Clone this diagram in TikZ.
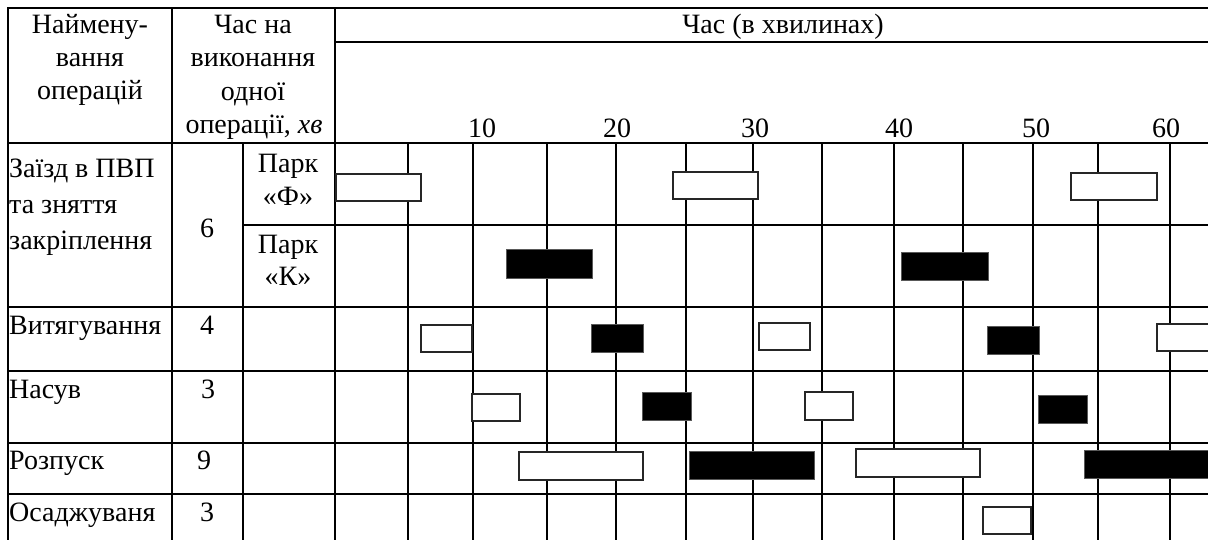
\documentclass[tikz,border=0pt]{standalone}
\usepackage{fontspec}
\setmainfont{Liberation Serif}
\begin{document}
\begin{tikzpicture}[x=1pt,y=-1pt,
  gridline/.style={line width=1.6pt, line cap=rect},
  wbar/.style={draw=black!85, line width=1.2pt, fill=white},
  bbar/.style={draw=black!65, line width=0.8pt, fill=black},
  lab/.style={font=\fontsize{28}{33}\selectfont, inner sep=0pt, anchor=base},
  labl/.style={lab, anchor=base west}]
\useasboundingbox (0,0) rectangle (1208,539);
\clip (0,0) rectangle (1208,539);
% table lines
\draw[gridline] (8,8) -- (1212,8);
\draw[gridline] (335,42) -- (1212,42);
\draw[gridline] (8,143) -- (1212,143);
\draw[gridline] (243,225) -- (1212,225);
\foreach \y in {307,371,443,494} \draw[gridline] (8,\y) -- (1212,\y);
\foreach \x in {8,172,335} \draw[gridline] (\x,8) -- (\x,545);
\draw[gridline] (243,143) -- (243,545);
\foreach \x in {408,473,547,616,686,753,822,894,963,1033,1098,1170}
  \draw[gridline] (\x,143) -- (\x,545);
% header texts
\node[lab] (h1a) at (90,33) {Наймену-};
\node[lab] (h1b) at (90,66) {вання};
\node[lab] (h1c) at (90,99) {операцій};
\node[lab] (h2a) at (253,33) {Час на};
\node[lab] (h2b) at (253,66) {виконання};
\node[lab] (h2c) at (253,100) {одної};
\node[lab] (h2d) at (254,133) {операції, \textit{хв}};
\node[lab] (h3) at (783,33) {Час (в хвилинах)};
\node[lab] (t10) at (482,137) {10};
\node[lab] (t20) at (617,137) {20};
\node[lab] (t30) at (755,137) {30};
\node[lab] (t40) at (899,137) {40};
\node[lab] (t50) at (1036,137) {50};
\node[lab] (t60) at (1166,137) {60};
% row labels
\node[labl] (r1a) at (9,177) {Заїзд в ПВП};
\node[labl] (r1b) at (9,213) {та зняття};
\node[labl] (r1c) at (9,249) {закріплення};
\node[lab] (r1t) at (207,237) {6};
\node[lab] (pfa) at (288,172) {Парк};
\node[lab] (pfb) at (288,205) {«Ф»};
\node[lab] (pka) at (288,253) {Парк};
\node[lab] (pkb) at (288,285) {«К»};
\node[labl] (r2) at (9,334) {Витягування};
\node[lab] (r2t) at (207,334) {4};
\node[labl] (r3) at (9,398) {Насув};
\node[lab] (r3t) at (208,398) {3};
\node[labl] (r4) at (9,469) {Розпуск};
\node[lab] (r4t) at (204,469) {9};
\node[labl] (r5) at (9,521) {Осаджуваня};
\node[lab] (r5t) at (207,521) {3};
% bars: park F
\draw[wbar] (336,174) rectangle (421,201);
\draw[wbar] (673,172) rectangle (758,199);
\draw[wbar] (1071,173) rectangle (1157,200);
% park K
\draw[bbar] (506,249) rectangle (592,278);
\draw[bbar] (901,252) rectangle (988,280);
% vytyahuvannia
\draw[wbar] (421,325) rectangle (472,352);
\draw[bbar] (591,324) rectangle (643,352);
\draw[wbar] (759,323) rectangle (810,350);
\draw[bbar] (987,326) rectangle (1039,354);
\draw[wbar] (1157,324) rectangle (1220,351);
% nasuv
\draw[wbar] (472,394) rectangle (520,421);
\draw[bbar] (642,392) rectangle (691,420);
\draw[wbar] (805,392) rectangle (853,420);
\draw[bbar] (1038,395) rectangle (1087,423);
% rozpusk
\draw[wbar] (519,452) rectangle (643,480);
\draw[bbar] (689,451) rectangle (814,479);
\draw[wbar] (856,449) rectangle (980,477);
\draw[bbar] (1084,450) rectangle (1220,478);
% osadzhuvannia
\draw[wbar] (983,507) rectangle (1031,534);
\end{tikzpicture}
\end{document}
